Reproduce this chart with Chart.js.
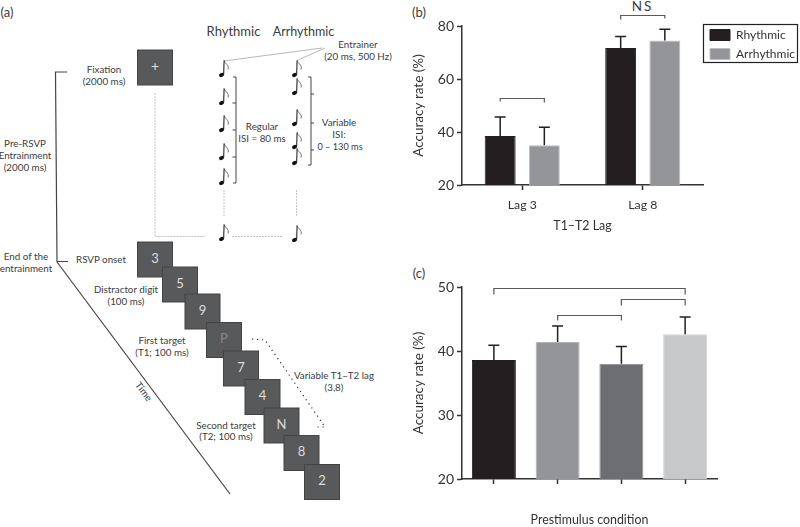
<!DOCTYPE html>
<html><head><meta charset="utf-8">
<style>
html,body{margin:0;padding:0;background:#fff;width:800px;height:527px;overflow:hidden}
canvas{position:absolute;display:block}
#cb{left:400px;top:0}
#cc{left:400px;top:265px}
svg{position:absolute;left:0;top:0}
svg text{font-family:Lato,sans-serif;font-size:9.800px;fill:#3c3c3c;text-anchor:middle;dominant-baseline:middle}
</style>
<script src="https://cdn.jsdelivr.net/npm/chart.js@4/dist/chart.umd.min.js"></script>
</head><body>
<svg width="800" height="527" viewBox="0 0 800 527">
<defs>
<g id="note"><ellipse cx="0" cy="0" rx="2.6" ry="1.9" transform="rotate(-25)" fill="#111"/><path d="M2.2,-.5 L2.6,-14.5" stroke="#111" stroke-width="1" fill="none"/><path d="M2.6,-14.5 C3.5,-11 8,-10 6.5,-5.5" stroke="#333" stroke-width=".7" fill="none"/></g>
<rect id="sq" width="35" height="35" fill="#58595b" stroke="#444" stroke-width="1"/>
</defs>
<text x="7" y="14" style="font-size:13px">(a)</text>
<text x="419" y="14" style="font-size:13px">(b)</text>
<text x="419" y="275" style="font-size:13px">(c)</text>
<text x="642.500" y="8" style="font-size:13.500px;letter-spacing:2px">NS</text>
<text x="233.500" y="33" style="font-size:13px">Rhythmic</text>
<text x="303.500" y="33" style="font-size:12.500px">Arrhythmic</text>
<text x="358" y="46">Entrainer</text><text x="358" y="58">(20 ms, 500 Hz)</text>
<text x="104" y="71">Fixation</text><text x="104" y="83">(2000 ms)</text>
<text x="25" y="145">Pre-RSVP</text><text x="25" y="157">Entrainment</text><text x="25" y="169">(2000 ms)</text>
<text x="262" y="128">Regular</text><text x="262" y="140">ISI = 80 ms</text>
<text x="339" y="124">Variable</text><text x="339" y="136">ISI:</text><text x="340" y="148" style="font-size:9.200px">0 – 130 ms</text>
<text x="26" y="258">End of the</text><text x="26" y="270">entrainment</text>
<text x="101" y="261">RSVP onset</text>
<text x="126" y="291">Distractor digit</text><text x="126" y="303">(100 ms)</text>
<text x="162" y="342">First target</text><text x="162" y="354">(T1; 100 ms)</text>
<text x="334" y="377">Variable T1–T2 lag</text><text x="334" y="389">(3,8)</text>
<text x="226" y="427">Second target</text><text x="226" y="438">(T2; 100 ms)</text>
<text x="143" y="392" transform="rotate(53 143 392)">Time</text>
<g fill="none" stroke="#444" stroke-width="1.2">
<path d="M67,72 H55.500 L57,261.500 H68"/>
<path d="M57,262 L230,494"/>
<path d="M233,77 H236 V183 H233 M232.500,103 H236 M232.500,130 H236 M232.500,157 H236" stroke-width="1"/>
<path d="M308,77 H311 V165 H308 M311,94 H314 M311,123 H314 M311,150 H314" stroke-width="1"/>
</g>
<g fill="none" stroke="#a5a5a5" stroke-width=".8">
<path d="M322,48 L224,61 M325,48 L297,60.500"/>
</g>
<g fill="none" stroke="#c4c4c4" stroke-width="1" stroke-dasharray="2 1">
<path d="M155,93 V236.500 H205 M232,236.500 H282 M224,190 V217 M296.500,190 V216"/>
</g>
<path d="M252,339 L265,340 L325,427 L316,427" fill="none" stroke="#333" stroke-width="1.200" stroke-dasharray="1.200 3.800"/>
<use href="#note" x="221.500" y="75"/><use href="#note" x="221.500" y="103"/><use href="#note" x="221.500" y="130"/><use href="#note" x="221.500" y="158"/><use href="#note" x="221.500" y="183"/><use href="#note" x="221.500" y="239"/>
<use href="#note" x="294.500" y="75"/><use href="#note" x="294.500" y="93"/><use href="#note" x="294.500" y="124"/><use href="#note" x="294.500" y="147"/><use href="#note" x="294.500" y="163"/><use href="#note" x="294.500" y="240"/>
<use href="#sq" x="137.500" y="50"/><text x="155" y="67" style="font-size:14px;fill:#ddd">+</text>
<use href="#sq" x="137.500" y="242"/><text x="155" y="259.500" style="font-size:13px;fill:#ddd">3</text>
<use href="#sq" x="162.500" y="267"/><text x="180" y="284.500" style="font-size:13px;fill:#ddd">5</text>
<use href="#sq" x="185" y="294"/><text x="202.500" y="311.500" style="font-size:13px;fill:#ddd">9</text>
<use href="#sq" x="206.500" y="322.500"/><text x="224" y="340" style="font-size:13px;fill:#8a8a8a">P</text>
<use href="#sq" x="223.500" y="351"/><text x="241" y="368.500" style="font-size:13px;fill:#ddd">7</text>
<use href="#sq" x="245" y="379.500"/><text x="262.500" y="397" style="font-size:13px;fill:#ddd">4</text>
<use href="#sq" x="264" y="408"/><text x="281.500" y="425.500" style="font-size:13px;fill:#ddd">N</text>
<use href="#sq" x="284" y="435.500"/><text x="301.500" y="453" style="font-size:13px;fill:#ddd">8</text>
<use href="#sq" x="304.500" y="464.500"/><text x="322" y="482" style="font-size:13px;fill:#ddd">2</text>
</svg>
<canvas id="cb" width="400" height="240"></canvas>
<canvas id="cc" width="400" height="262"></canvas>
<script>
// Panel (b)
const lagLabels = ['Lag 3', 'Lag 8'];
const rhythmicValues = [38.5, 71.7];
const arrhythmicValues = [35, 74.5];
const rhythmicUpper = [45.7, 76];
const arrhythmicUpper = [41.8, 78.8];
const lagTicks = [20, 40, 60, 80];
// Panel (c)
const conditionLabels = ['', '', '', ''];
const conditionValues = [38.6, 41.4, 38, 42.6];
const conditionUpper = [40.9, 43.9, 40.7, 45.3];
const conditionColors = ['#231f20', '#939598', '#6d6e71', '#c7c8ca'];
const conditionEdges = ['#231f20', '#b1b3b5', '#8f9093', '#d4d5d6'];
const conditionTicks = [20, 30, 40, 50];

const FONT = 'Lato, sans-serif';
const INK = '#333333';

const errorBars = {
  id: 'errorBars',
  afterDatasetsDraw(chart) {
    const c = chart.ctx, y = chart.scales.y;
    chart.data.datasets.forEach((ds, i) => {
      chart.getDatasetMeta(i).data.forEach((bar, j) => {
        const t = y.getPixelForValue(ds.upper[j]);
        c.save();
        c.strokeStyle = '#231f20';
        c.lineWidth = 1.5;
        c.beginPath();
        c.moveTo(bar.x, bar.y);
        c.lineTo(bar.x, t);
        c.moveTo(bar.x - 5.5, t);
        c.lineTo(bar.x + 5.5, t);
        c.stroke();
        c.restore();
      });
    });
  }
};

const brackets = {
  id: 'brackets',
  afterDraw(chart, args, opts) {
    const c = chart.ctx, y = chart.scales.y;
    (opts.list || []).forEach(b => {
      const x0 = chart.getDatasetMeta(b.from[0]).data[b.from[1]].x;
      const x1 = chart.getDatasetMeta(b.to[0]).data[b.to[1]].x;
      const p = Math.round(y.getPixelForValue(b.at)) + .5;
      c.save();
      c.strokeStyle = '#58595b';
      c.lineWidth = 1.2;
      c.beginPath();
      c.moveTo(x0, p + b.dropL);
      c.lineTo(x0, p);
      c.lineTo(x1, p);
      c.lineTo(x1, p + b.dropR);
      c.stroke();
      c.restore();
    });
  }
};

const legendFrame = {
  id: 'legendFrame',
  beforeLayout(chart) {
    const l = chart.legend;
    if (!l || l._fixed) return;
    const fit = l.fit;
    l.fit = function () { fit.call(this); this.width = 94; };
    l._fixed = true;
  },
  afterLayout(chart) {
    const l = chart.legend;
    l.top = 22;
  },
  afterDraw(chart) {
    const c = chart.ctx, l = chart.legend;
    c.save();
    c.strokeStyle = '#222';
    c.lineWidth = 1.2;
    c.strokeRect(l.left + .5, 24.5, 94, 38);
    c.restore();
  }
};

function axes(ticksList, titleText, xHeight, xPad, titlePad) {
  const step = ticksList[1] - ticksList[0];
  return {
    x: {
      grid: { display: true, offset: false, drawOnChartArea: false, color: INK, tickLength: 5, tickWidth: 1.5 },
      border: { color: INK, width: 1.5 },
      ticks: { color: INK, font: { family: FONT, size: 12.3 }, padding: xPad, maxRotation: 0 },
      title: { display: true, text: titleText, color: INK, font: { family: FONT, size: 12.4 }, padding: titlePad },
      afterFit(s) { s.height = xHeight; }
    },
    y: {
      min: ticksList[0], max: ticksList[ticksList.length - 1],
      grid: { display: true, drawOnChartArea: false, color: INK, tickLength: 5, tickWidth: 1.5 },
      border: { color: INK, width: 1.5 },
      ticks: { color: INK, stepSize: step, font: { family: FONT, size: 14 }, padding: 3 },
      title: { display: true, text: 'Accuracy rate (%)', color: INK, font: { family: FONT, size: 13.5 }, padding: 11 },
      afterFit(s) { s.width = 62; }
    }
  };
}

new Chart(document.getElementById('cb'), {
  type: 'bar',
  data: {
    labels: lagLabels,
    datasets: [
      { label: 'Rhythmic', data: rhythmicValues, upper: rhythmicUpper, backgroundColor: '#231f20', borderColor: '#231f20', borderWidth: 1, categoryPercentage: .733, barPercentage: .7 },
      { label: 'Arrhythmic', data: arrhythmicValues, upper: arrhythmicUpper, backgroundColor: '#939598', borderColor: '#bcbec0', borderWidth: 1, categoryPercentage: .733, barPercentage: .7 }
    ]
  },
  options: {
    responsive: false, animation: false, devicePixelRatio: 1,
    layout: { padding: { top: 26, right: 3, left: 0, bottom: 0 } },
    plugins: {
      tooltip: { enabled: false },
      legend: {
        position: 'right', align: 'start', fullSize: false,
        labels: { boxWidth: 20, boxHeight: 11, padding: 7, color: INK, font: { family: FONT, size: 12 } }
      },
      brackets: { list: [
        { from: [0, 0], to: [1, 0], at: 52.7, dropL: 3, dropR: 4 },
        { from: [0, 1], to: [1, 1], at: 84, dropL: 4, dropR: 3 }
      ] }
    },
    scales: axes(lagTicks, 'T1–T2 Lag', 55, 8, 6.5)
  },
  plugins: [errorBars, brackets, legendFrame]
});

new Chart(document.getElementById('cc'), {
  type: 'bar',
  data: {
    labels: conditionLabels,
    datasets: [
      { label: 'Accuracy', data: conditionValues, upper: conditionUpper, backgroundColor: conditionColors, borderColor: conditionEdges, borderWidth: 1, categoryPercentage: .69, barPercentage: 1 }
    ]
  },
  options: {
    responsive: false, animation: false, devicePixelRatio: 1,
    layout: { padding: { top: 22, right: 83, left: 0, bottom: 0 } },
    plugins: {
      tooltip: { enabled: false },
      legend: { display: false },
      brackets: { list: [
        { from: [0, 0], to: [0, 3], at: 49.9, dropL: 6, dropR: 6 },
        { from: [0, 2], to: [0, 3], at: 48.1, dropL: 6, dropR: 6 },
        { from: [0, 1], to: [0, 2], at: 45.6, dropL: 5, dropR: 5 }
      ] }
    },
    scales: axes(conditionTicks, 'Prestimulus condition', 48, 6, 0)
  },
  plugins: [errorBars, brackets]
});
</script>
</body></html>
